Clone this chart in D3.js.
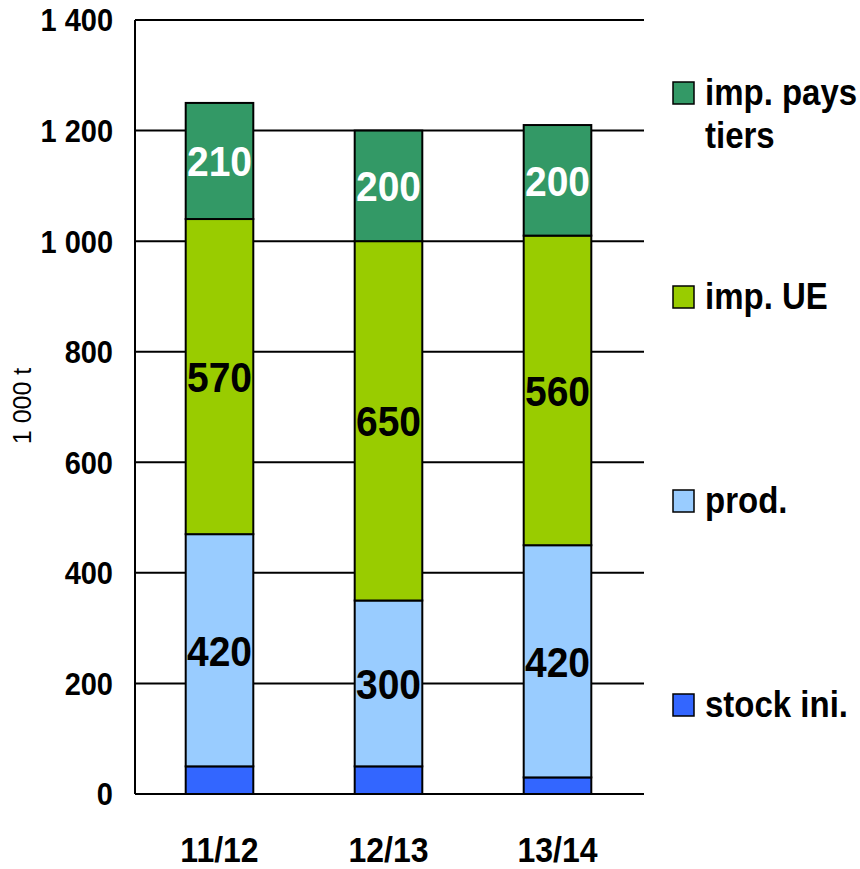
<!DOCTYPE html>
<html>
<head>
<meta charset="utf-8">
<script src="https://cdn.jsdelivr.net/npm/d3@7"></script>
<style>
  html, body { margin: 0; padding: 0; background: #fff; }
  svg { display: block; font-family: "Liberation Sans", Arial, sans-serif; }
</style>
</head>
<body>
<svg id="chart" width="860" height="869"></svg>
<script>
// ---- data ----
const categories = ["11/12", "12/13", "13/14"];
const seriesNames = ["stock ini.", "prod.", "imp. UE", "imp. pays tiers"];
const stockIni = [50, 50, 30];
const prod = [420, 300, 420];
const impUE = [570, 650, 560];
const impPaysTiers = [210, 200, 200];
const yTicks = [0, 200, 400, 600, 800, 1000, 1200, 1400];
const yTickLabels = ["0", "200", "400", "600", "800", "1 000", "1 200", "1 400"];
const yAxisTitle = "1 000 t";
const colors = ["#3366FF", "#99CCFF", "#99CC00", "#339966"];
const labelColors = [null, "#000", "#000", "#fff"];
const legendLines = [["imp. pays", "tiers"], ["imp. UE"], ["prod."], ["stock ini."]];
const legendColorIdx = [3, 2, 1, 0];

const table = categories.map((c, i) => ({
  cat: c,
  "stock ini.": stockIni[i],
  "prod.": prod[i],
  "imp. UE": impUE[i],
  "imp. pays tiers": impPaysTiers[i]
}));

const svg = d3.select("#chart");
const x0 = 135, x1 = 642, gridEnd = 644, yTop = 20, yBottom = 794;
const SY = 1.1;

const x = d3.scaleBand().domain(categories).range([x0, x1]).padding(0);
const y = d3.scaleLinear().domain([0, 1400]).range([yBottom, yTop]);
const barW = x.bandwidth() * 0.4;

// gridlines
svg.append("g").selectAll("line").data(yTicks).join("line")
  .attr("x1", x0).attr("x2", gridEnd)
  .attr("y1", d => y(d)).attr("y2", d => y(d))
  .attr("stroke", "#000").attr("stroke-width", 2);

// y axis line
svg.append("line").attr("x1", x0).attr("x2", x0)
  .attr("y1", y(1400)).attr("y2", y(0))
  .attr("stroke", "#000").attr("stroke-width", 2);

// y tick labels
svg.append("g").selectAll("text").data(yTicks).join("text")
  .attr("transform", d => `translate(113,${y(d)}) scale(1,${SY})`)
  .attr("text-anchor", "end").attr("dy", "0.36em")
  .attr("font-size", 29).attr("font-weight", "bold")
  .text((d, i) => yTickLabels[i]);

// y title
svg.append("text")
  .attr("transform", `translate(31,406) rotate(-90)`)
  .attr("text-anchor", "middle")
  .attr("font-size", 25)
  .text(yAxisTitle);

// stacked bars
const stack = d3.stack().keys(seriesNames)(table);
const layers = svg.append("g").selectAll("g").data(stack).join("g");
layers.selectAll("rect").data(d => d).join("rect")
  .attr("x", d => x(d.data.cat) + (x.bandwidth() - barW) / 2)
  .attr("width", barW)
  .attr("y", d => y(d[1]))
  .attr("height", d => y(d[0]) - y(d[1]))
  .attr("fill", (d, i, n) => colors[seriesNames.indexOf(d3.select(n[i].parentNode).datum().key)])
  .attr("stroke", "#000").attr("stroke-width", 2);

// segment labels
stack.forEach((layer, li) => {
  if (!labelColors[li]) return;
  svg.append("g").selectAll("text").data(layer).join("text")
    .attr("transform", d => `translate(${x(d.data.cat) + x.bandwidth() / 2},${y((d[0] + d[1]) / 2)}) scale(1,${SY})`)
    .attr("text-anchor", "middle").attr("dy", "0.36em")
    .attr("font-size", 39).attr("font-weight", "bold")
    .attr("fill", labelColors[li])
    .text(d => d[1] - d[0]);
});

// x labels
svg.append("g").selectAll("text").data(categories).join("text")
  .attr("transform", d => `translate(${x(d) + x.bandwidth() / 2},862) scale(1,${SY})`)
  .attr("text-anchor", "middle")
  .attr("font-size", 32).attr("font-weight", "bold")
  .text(d => d);

// legend
const legend = svg.append("g").selectAll("g").data(legendLines).join("g")
  .attr("transform", (d, i) => `translate(673,${93 + i * 204})`);
legend.append("rect")
  .attr("x", 0).attr("y", -11).attr("width", 21).attr("height", 22)
  .attr("fill", (d, i) => colors[legendColorIdx[i]])
  .attr("stroke", "#000").attr("stroke-width", 1.5);
legend.each(function(lines) {
  const g = d3.select(this);
  lines.forEach((t, j) => {
    g.append("text")
      .attr("transform", `translate(32,${12 + j * 43}) scale(1,${SY})`)
      .attr("font-size", 33).attr("font-weight", "bold")
      .text(t);
  });
});
</script>
</body>
</html>
